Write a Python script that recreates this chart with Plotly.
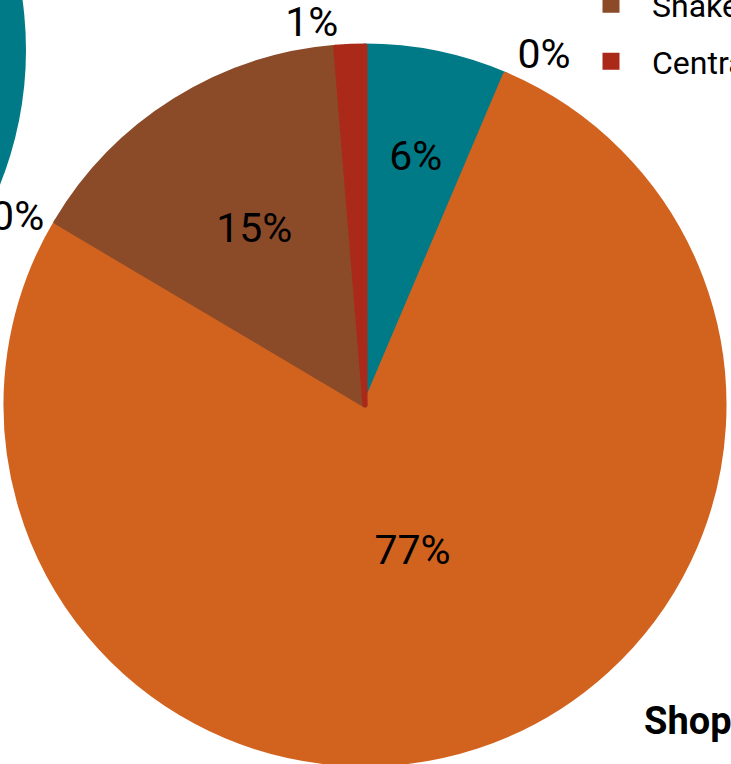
import plotly.graph_objects as go

W, H = 731, 764

labels = ["Other", "Breakfast", "Lunch", "Dinner", "Snakes", "Central"]
values = [6.4, 0, 77.2, 0, 15.2, 1.3]
colors = ["#007A86", "#6E8B3D", "#D2631F", "#5B6770", "#8B4B29", "#AA2918"]

FONT = "Roboto, Liberation Sans, Arial, sans-serif"
LINE_COLORS = [c if v > 0 else "rgba(0,0,0,0)" for c, v in zip(colors, values)]
OUT_POS = ["outside" if v < 2 else "none" for v in values]
IN_POS = ["inside" if v >= 2 else "none" for v in values]

# pie geometry (pixels from the top-left of the page)
PCX, PCY, PR = 365, 405, 359
IR = 305  # radius of the label-only overlay

fig = go.Figure()
# invisible helper so that each legend entry is its own group (spacing via tracegroupgap)
fig.add_trace(go.Scatter(x=[None], y=[None], name=" ", legendgroup="pad",
                         showlegend=True, hoverinfo="skip"))
# main pie (slices + small outside labels + legend)
fig.add_trace(go.Pie(
    labels=labels, values=values, sort=False, direction="clockwise", rotation=0,
    marker=dict(colors=colors, line=dict(width=5, color=LINE_COLORS)),
    texttemplate="%{percent:.0%}", textposition=OUT_POS,
    textfont=dict(size=41, family=FONT, color="black"),
    domain=dict(x=[(PCX - PR) / W, (PCX + PR) / W],
                y=[1 - (PCY + PR) / H, 1 - (PCY - PR) / H]),
    showlegend=True, hoverinfo="label+percent",
))
# same data, transparent, used only to place the inside labels nearer the centre
fig.add_trace(go.Pie(
    labels=labels, values=values, sort=False, direction="clockwise", rotation=0,
    marker=dict(colors=["rgba(0,0,0,0)"] * len(values), line=dict(width=0)),
    texttemplate="%{percent:.0%}", textposition=IN_POS,
    insidetextorientation="horizontal",
    textfont=dict(size=41, family=FONT, color="black"),
    domain=dict(x=[(PCX - IR) / W, (PCX + IR) / W],
                y=[1 - (PCY + IR) / H, 1 - (PCY - IR) / H]),
    showlegend=False, hoverinfo="skip",
))

# fragment of a neighbouring teal pie at the top-left
cx, cy, r = -336, 50, 362
fig.add_shape(type="circle", xref="paper", yref="paper",
              x0=(cx - r) / W, x1=(cx + r) / W,
              y0=1 - (cy + r) / H, y1=1 - (cy - r) / H,
              fillcolor="#007A86", line=dict(width=0), layer="below")

fig.add_annotation(text="<b>Shopping</b>", xref="paper", yref="paper",
                   x=642 / W, y=1 - 721 / H, xanchor="left", yanchor="middle",
                   showarrow=False, font=dict(size=38, family=FONT, color="black"))

fig.update_layout(
    width=W, height=H,
    margin=dict(l=0, r=0, t=0, b=0, autoexpand=False),
    paper_bgcolor="white", plot_bgcolor="white",
    xaxis=dict(visible=False), yaxis=dict(visible=False),
    legend=dict(x=570 / W, xanchor="left", y=1 - 89 / H, yanchor="bottom",
                traceorder="grouped", tracegroupgap=12.4, itemwidth=72,
                font=dict(size=32, family=FONT, color="black"),
                bgcolor="rgba(0,0,0,0)"),
)

fig.write_html("out.html",
               config={"displayModeBar": False},
               post_script="document.body.style.margin='0';"
                           "document.documentElement.style.overflow='hidden';")
